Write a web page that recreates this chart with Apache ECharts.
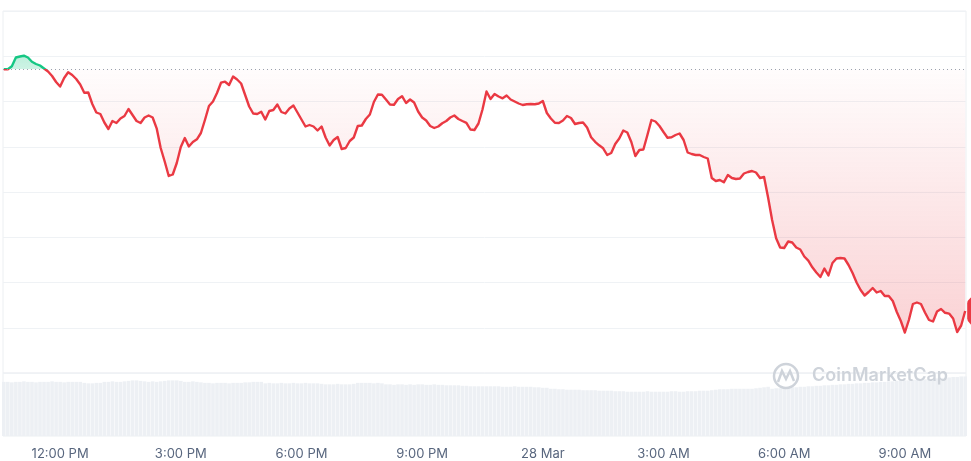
<!DOCTYPE html>
<html><head><meta charset="utf-8">
<script src="https://cdn.jsdelivr.net/npm/echarts@6/dist/echarts.min.js"></script>
<style>html,body{margin:0;padding:0;background:#fff}#c{width:971px;height:461px}</style>
</head><body><div id="c"></div>
<script>
// x axis tick positions (hours after 12:00 PM, 27 Mar) and their labels
const tickHours = [0, 3, 6, 9, 12, 15, 18, 21];
const tickLabels = ['12:00 PM', '3:00 PM', '6:00 PM', '9:00 PM', '28 Mar', '3:00 AM', '6:00 AM', '9:00 AM'];
// sampling: every 6 minutes starting 10:36 AM (-1.4 h)
const startHour = -1.4;
const stepHours = 0.1;

// price (arbitrary units)
const prices = [
  303.7, 303.7, 306.8, 315.5, 316.5, 317.3, 315.5, 311.2, 309, 307.5,
  304.5, 301.5, 297, 291, 286.5, 295, 300.7, 298, 294, 288.5,
  280.3, 280.5, 269, 260.5, 259, 250.5, 244, 252, 250, 254.5,
  257, 264, 258, 252, 250, 255.5, 257.5, 255.5, 244.7, 225,
  211.5, 197, 198.5, 210, 226, 235, 226.5, 231, 233.7, 240,
  253, 267, 271.5, 280, 290.3, 291.3, 288, 296.5, 293.5, 289.5,
  278, 266.5, 259.5, 259, 261.3, 253.5, 262, 263, 268.5, 261,
  259.5, 264.5, 267.5, 260.5, 253.5, 246.5, 248, 246.5, 242.5, 246.5,
  235.5, 227.5, 233, 236, 224, 225, 232, 235.5, 247, 247.5,
  254, 258.5, 271, 278.5, 278.3, 273.5, 268.5, 268.2, 274, 276.8,
  270, 273.5, 270.5, 261.5, 255.5, 252.5, 247, 245, 246.5, 249.8,
  252, 255.5, 257.5, 254, 252, 250.2, 243.5, 243, 249.5, 263.5,
  281.5, 274, 279, 276.5, 274.7, 277.5, 273.5, 271.5, 269.5, 268,
  268.7, 269, 268.7, 269.5, 272, 260, 254.5, 250.2, 250, 252.5,
  257, 255, 249, 250, 250.5, 245.5, 235.7, 231.2, 227.7, 224.7,
  218, 220, 229, 234.5, 242.5, 240.5, 231, 217, 223, 223.5,
  238, 253, 251.5, 247, 241, 235.3, 235.7, 238, 239.5, 233,
  220.5, 219, 218, 218, 216, 214.5, 195, 192, 193, 190.7,
  198, 195, 194, 194.5, 199.5, 201, 202, 200.5, 195, 196,
  175.5, 153, 134.7, 125.5, 125, 131.5, 130.5, 125.5, 123.5, 116.5,
  112.4, 105.7, 100.5, 96, 104.5, 97.5, 110, 114.5, 115, 114.5,
  108, 100, 90.5, 83, 77.5, 81, 85, 80.5, 82, 77,
  77, 72, 61, 52, 40.5, 53, 69, 70.5, 69, 60.5,
  53, 51.5, 61.5, 64, 60.2, 59.4, 54.5, 41, 47.5, 62
];

// volume (arbitrary units)
const volumes = [
  55, 55, 54.5, 55, 55, 55.5, 55, 55, 54.5, 55, 55, 55, 55.5, 55, 55, 54.5, 55, 55, 55, 55,
  54, 53.5, 53.5, 54, 54,
  55, 55, 55.5, 55, 55, 55.5,
  56, 56.5, 56.5, 56,
  55.5, 55, 55.5, 55, 55.5,
  56, 56.5, 56.5, 56.5, 56,
  55, 55, 55.5, 55, 54.5,
  54, 54, 53.5, 54, 54, 54, 53.5, 54, 54, 54, 54.5, 54.5,
  55, 55, 55,
  53.5, 54, 53.5, 53.5, 54, 53.5, 53.5, 54, 53.5, 53.5, 54, 53.5, 53.5, 53.5, 53,
  52.5, 52.5, 52.5, 53, 52.5, 52.5, 52.5, 53,
  54, 54, 54, 54, 53.5, 54, 53.5,
  52.5, 52.5, 52, 52.5, 52.5, 52, 52.5, 52, 52.5, 52.5, 52, 52, 52.5, 52, 52, 51.5, 51.5, 51.5, 51.5,
  51, 51, 50.5, 50.5, 50.5,
  50.5, 50.5, 50.5, 50.5, 50.5, 50, 50, 50, 50.5, 50, 50, 50, 50, 49.5, 49.5, 49, 49,
  48, 48, 47.5, 47.5, 47, 47, 47, 47, 46.5, 46.5, 46.5, 46.5, 46, 46, 46, 46,
  45.5, 45.5, 45.5, 45, 45, 45, 45, 45, 45.5, 45, 45, 45, 45, 45, 45.5, 45.5, 45, 45, 45.5, 45.5, 45.5, 46, 46, 46, 46.5,
  47, 47.5, 47.5, 47.5, 48, 48, 48, 48, 48, 48, 48.5, 49, 49.5, 50,
  48, 48.5, 48.5, 49, 49, 49.5, 49.5, 50, 50, 50.5, 50.5,
  51, 51, 51.5, 51.5, 52, 52, 52.5, 52.5, 53,
  53, 53.5, 53.5, 54, 54, 54.5, 54.5, 55, 55, 55.5, 55.5, 56,
  56, 56.5, 56.5, 57, 57, 57.5, 57.5, 58, 58, 58.5,
  59, 59, 59.5, 60, 60, 60.5, 60.5
];

const times = prices.map((_, i) => +(startHour + i * stepHours).toFixed(2));
const basePrice = prices[0];
const GREEN = '#16c784', RED = '#ea3943';

const pricePairs = times.map((t, i) => [t, prices[i]]);
const volPairs = times.map((t, i) => [t, volumes[i]]);
const lastPoint = pricePairs[pricePairs.length - 1];

const chart = echarts.init(document.getElementById('c'));
const WM = '#ced3da';
const LW = 2.4;
const option = {
  animation: false,
  grid: [
    { left: 3, right: 5, top: 11, bottom: 88, show: true, borderColor: '#eceff2', borderWidth: 1 },
    { left: 3, right: 5, top: 373, bottom: 24, show: true, borderColor: '#eceff2', borderWidth: 1 }
  ],
  xAxis: [
    { type: 'value', gridIndex: 0, min: -1.42, max: 22.52, show: false },
    { type: 'value', gridIndex: 1, min: -1.42, max: 22.52,
      axisLine: { show: false }, axisTick: { show: false }, splitLine: { show: false },
      axisLabel: { customValues: tickHours,
        formatter: v => tickLabels[tickHours.indexOf(Math.round(v))] || '',
        color: '#58667e', fontSize: 13, fontFamily: 'Inter', margin: 12 } }
  ],
  yAxis: [
    { type: 'value', gridIndex: 0, min: 0, max: 362, interval: 45.25,
      axisLabel: { show: false }, axisLine: { show: false }, axisTick: { show: false },
      splitLine: { lineStyle: { color: '#eff2f5', width: 1 } } },
    { type: 'value', gridIndex: 1, min: 0, max: 64, show: false, splitLine: { show: false } }
  ],
  series: [
    { type: 'line', xAxisIndex: 0, yAxisIndex: 0, data: pricePairs, symbol: 'none',
      lineStyle: { width: LW, color: RED, join: 'round' }, z: 3,
      areaStyle: { origin: basePrice, color: 'rgba(234,57,67,0.1)' },
      markLine: { silent: true, symbol: 'none', label: { show: false },
        lineStyle: { type: [1, 3], color: '#9aa1ad', width: 1 },
        data: [{ yAxis: basePrice }] },
      markPoint: { silent: true,
        data: [{ coord: lastPoint, symbol: 'roundRect', symbolSize: [40, 30], symbolOffset: [22, 0],
          itemStyle: { color: RED }, label: { show: false } }] }
    },
    { type: 'bar', xAxisIndex: 1, yAxisIndex: 1, data: volPairs, barWidth: 3.6, silent: true,
      itemStyle: { color: '#edf0f4' }, z: 1 }
  ],
  graphic: [
    { type: 'circle', z: 100, silent: true, shape: { cx: 786, cy: 376, r: 12 },
      style: { fill: 'none', stroke: WM, lineWidth: 2.5 } },
    { type: 'polyline', z: 100, silent: true,
      shape: { points: [[778, 382], [782, 371], [786, 379], [790, 371], [794, 381]] },
      style: { fill: 'none', stroke: WM, lineWidth: 2.5 } },
    { type: 'text', z: 100, silent: true, left: 812, top: 367,
      style: { text: 'CoinMarketCap', font: '600 18px Inter', fill: WM } }
  ]
};
chart.setOption(option);

// line / area colours anchored to the data levels (green above the opening price, red below)
const yTop = chart.convertToPixel({ gridIndex: 0 }, [0, Math.max(...prices)])[1];
const yBase = chart.convertToPixel({ gridIndex: 0 }, [0, basePrice])[1];
const yBot = chart.convertToPixel({ gridIndex: 0 }, [0, Math.min(...prices)])[1];
const f = (yBase - yTop) / (yBot - yTop);
chart.setOption({ series: [{
  lineStyle: { width: LW, color: new echarts.graphic.LinearGradient(0, yTop, 0, yBot, [
    { offset: 0, color: GREEN }, { offset: f, color: GREEN },
    { offset: f, color: RED }, { offset: 1, color: RED }
  ], true) },
  areaStyle: { origin: basePrice,
  color: new echarts.graphic.LinearGradient(0, yTop, 0, yBot, [
    { offset: 0, color: 'rgba(22,199,132,0.4)' },
    { offset: f, color: 'rgba(22,199,132,0.3)' },
    { offset: f, color: 'rgba(234,57,67,0.02)' },
    { offset: 1, color: 'rgba(234,57,67,0.32)' }
  ], true) } }] });
</script>
</body></html>
